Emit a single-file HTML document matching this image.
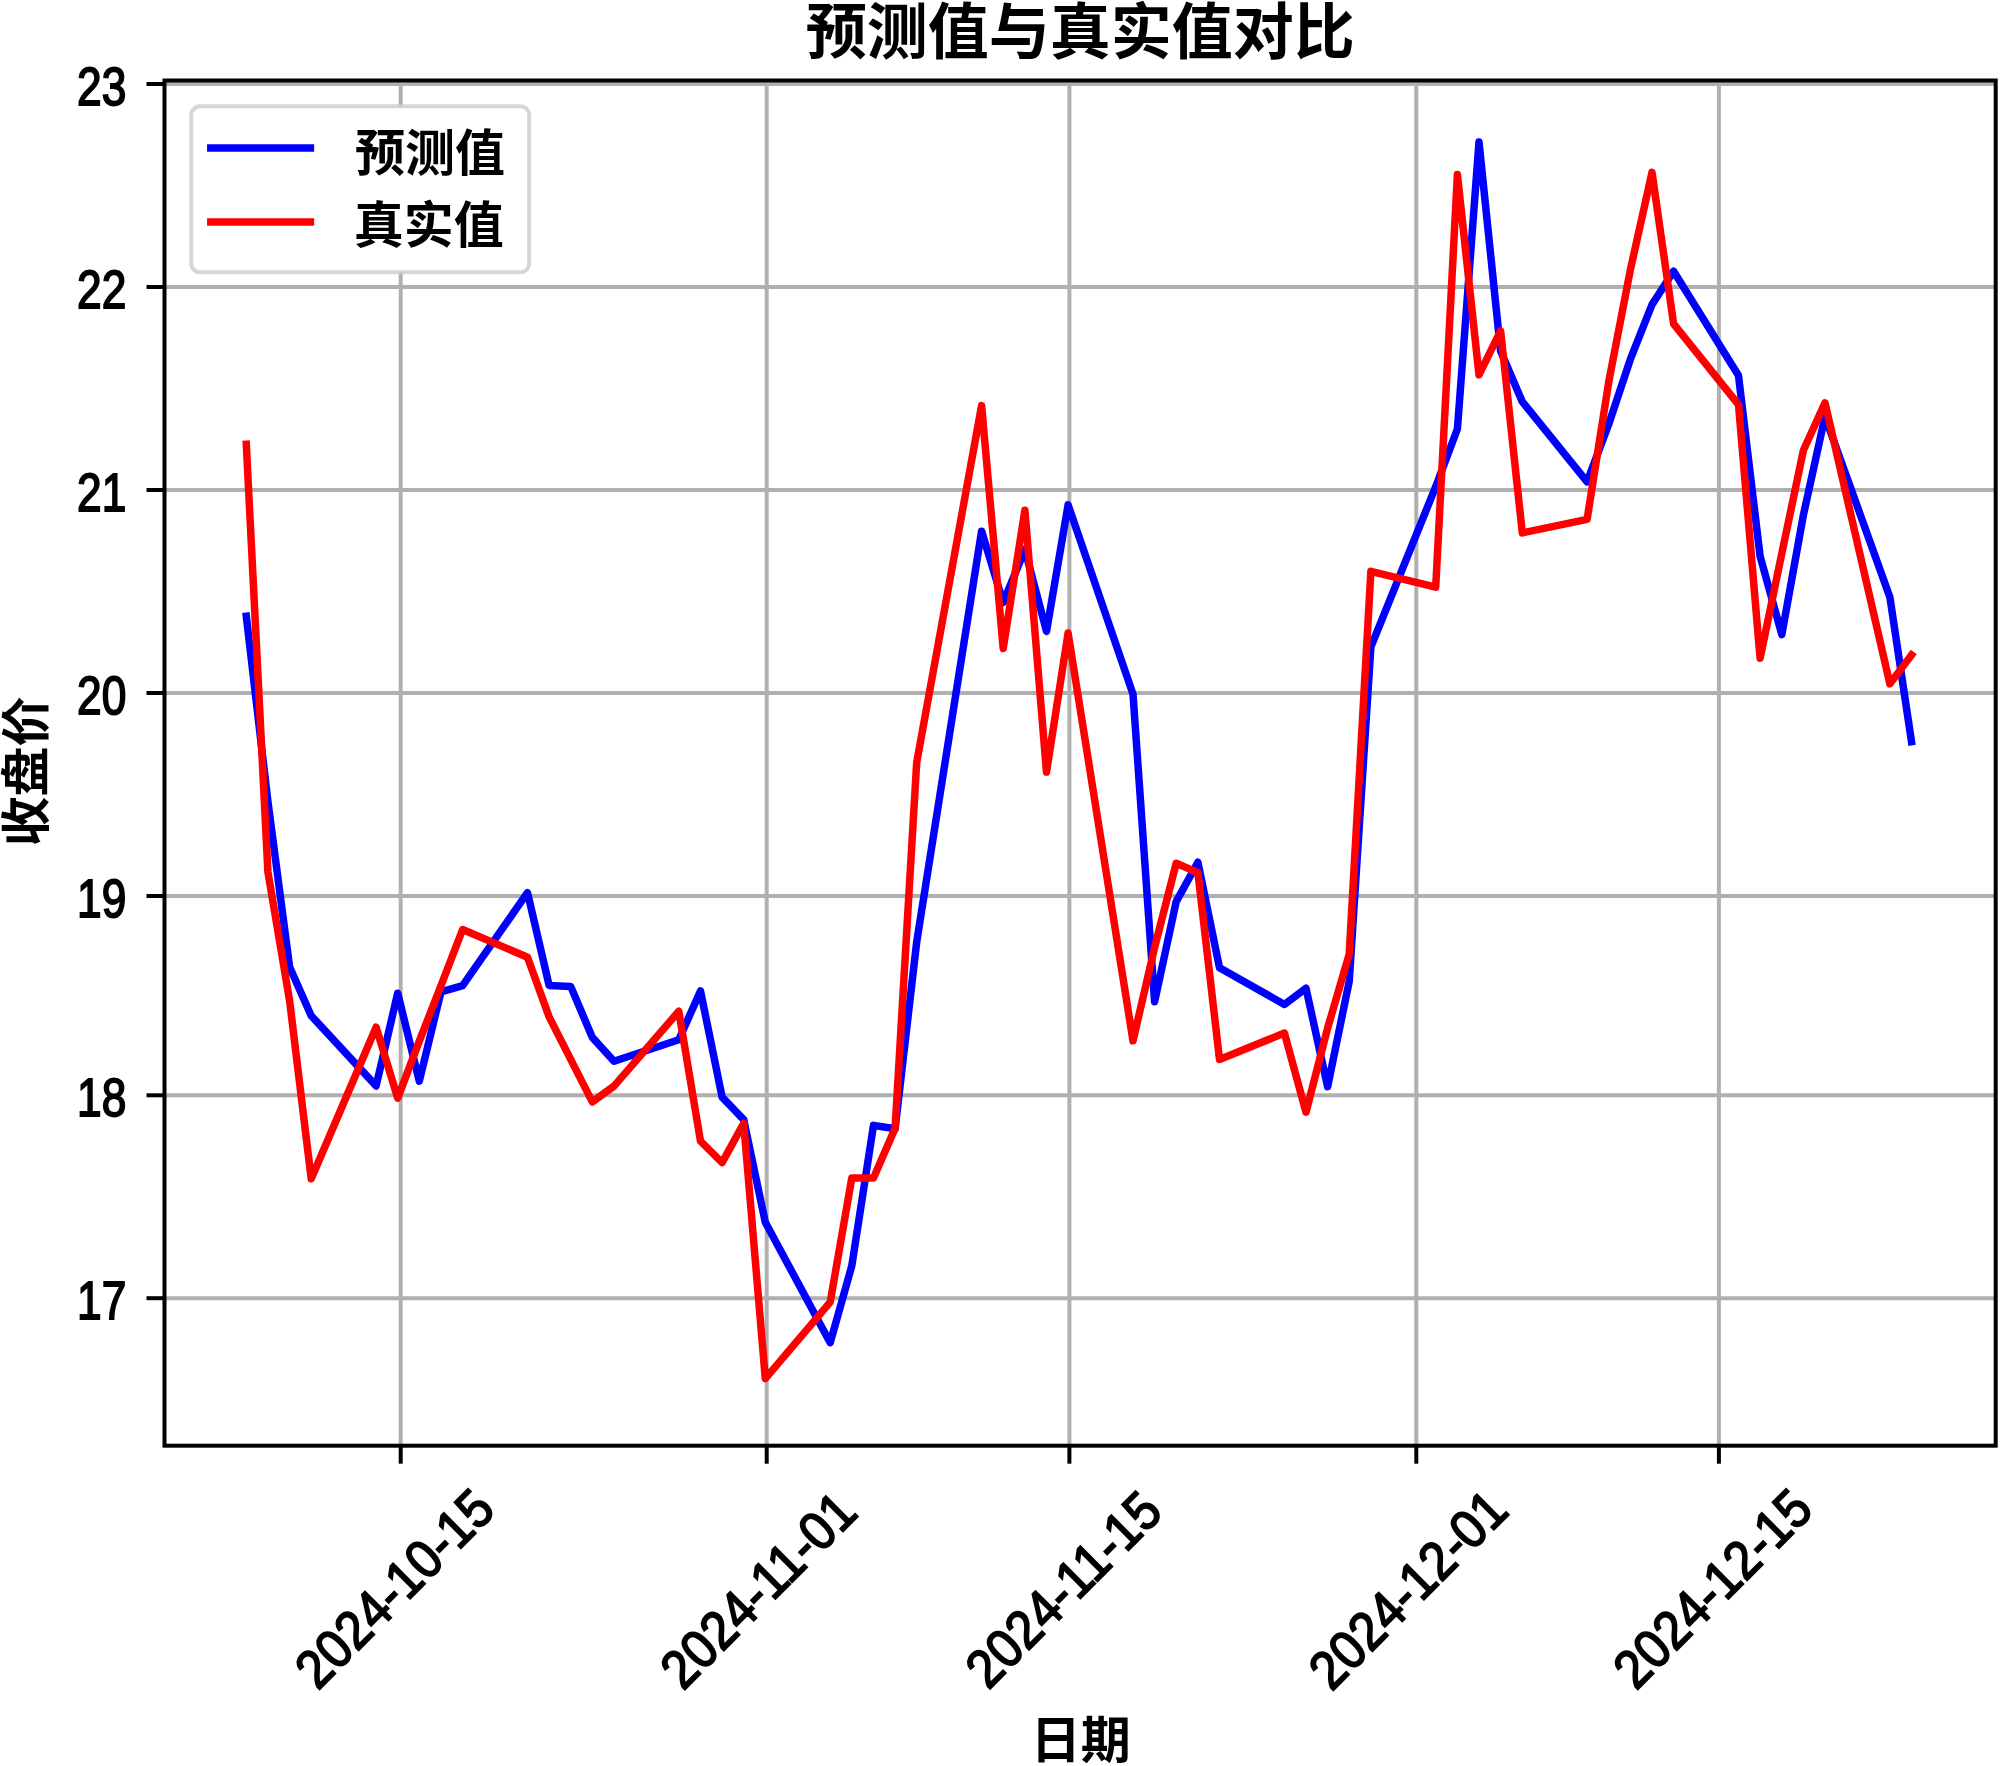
<!DOCTYPE html>
<html><head><meta charset="utf-8"><title>预测值与真实值对比</title>
<style>html,body{margin:0;padding:0;background:#fff;overflow:hidden;width:2000px;height:1766px}svg{display:block}</style></head><body>
<svg width="2000" height="1766" viewBox="0 0 2000 1766">
<rect x="0" y="0" width="2000" height="1766" fill="#ffffff"/>
<defs><clipPath id="ax"><rect x="164.5" y="80.5" width="1831.2" height="1365.2"/></clipPath></defs>
<g stroke="#b0b0b0" stroke-width="4" fill="none">
<line x1="400.7" y1="80.5" x2="400.7" y2="1445.7"/>
<line x1="766.7" y1="80.5" x2="766.7" y2="1445.7"/>
<line x1="1069.4" y1="80.5" x2="1069.4" y2="1445.7"/>
<line x1="1416.3" y1="80.5" x2="1416.3" y2="1445.7"/>
<line x1="1718.9" y1="80.5" x2="1718.9" y2="1445.7"/>
<line x1="164.5" y1="84" x2="1995.7" y2="84"/>
<line x1="164.5" y1="287" x2="1995.7" y2="287"/>
<line x1="164.5" y1="490" x2="1995.7" y2="490"/>
<line x1="164.5" y1="693" x2="1995.7" y2="693"/>
<line x1="164.5" y1="896" x2="1995.7" y2="896"/>
<line x1="164.5" y1="1095.3" x2="1995.7" y2="1095.3"/>
<line x1="164.5" y1="1298.2" x2="1995.7" y2="1298.2"/>
</g>
<g clip-path="url(#ax)" fill="none" stroke-width="7.5" stroke-linejoin="round" stroke-linecap="square">
<polyline stroke="#0000ff" points="246.3,616.2 267.9,801.4 289.6,966.9 311.2,1015.7 376.1,1085.9 397.7,993.2 419.3,1081.1 441.0,991.8 462.6,985.6 527.5,892.7 549.1,985.4 570.7,986.4 592.3,1037.4 614.0,1061.2 678.8,1039.8 700.5,991.0 722.1,1097.1 743.7,1119.7 765.3,1222.3 830.2,1342.7 851.8,1265.8 873.5,1125.4 895.1,1128.8 916.7,942.0 981.6,531.2 1003.2,602.5 1024.9,549.5 1046.5,631.4 1068.1,504.9 1133.0,694.1 1154.6,1001.7 1176.2,901.6 1197.9,862.3 1219.5,967.7 1284.4,1004.4 1306.0,988.2 1327.6,1086.7 1349.2,981.5 1370.9,646.8 1435.7,486.7 1457.4,429.0 1479.0,142.1 1500.6,351.1 1522.3,401.7 1587.1,481.9 1608.8,424.0 1630.4,359.2 1652.0,304.6 1673.6,271.2 1738.5,375.6 1760.1,556.3 1781.8,634.6 1803.4,515.0 1825.0,416.5 1889.9,597.2 1911.5,741.7"/>
<polyline stroke="#ff0000" points="246.3,444.2 267.9,871.8 289.6,1000.7 311.2,1178.8 376.1,1027.2 397.7,1098.1 419.3,1041.2 441.0,985.6 462.6,929.5 527.5,957.2 549.1,1016.9 570.7,1059.4 592.3,1101.9 614.0,1086.1 678.8,1011.3 700.5,1141.2 722.1,1162.6 743.7,1123.2 765.3,1378.6 830.2,1302.1 851.8,1178.0 873.5,1178.0 895.1,1128.2 916.7,762.3 981.6,405.6 1003.2,648.4 1024.9,510.2 1046.5,772.1 1068.1,633.0 1133.0,1040.8 1154.6,947.5 1176.2,863.3 1197.9,872.6 1219.5,1059.4 1284.4,1033.1 1306.0,1112.2 1327.6,1028.1 1349.2,954.2 1370.9,571.3 1435.7,587.1 1457.4,174.5 1479.0,374.8 1500.6,330.9 1522.3,532.9 1587.1,519.3 1608.8,381.5 1630.4,269.6 1652.0,172.4 1673.6,323.8 1738.5,404.6 1760.1,658.3 1781.8,553.5 1803.4,450.3 1825.0,402.9 1889.9,683.8 1911.5,655.1"/>
</g>
<rect x="164.5" y="80.5" width="1831.2" height="1365.2" fill="none" stroke="#000" stroke-width="4" stroke-linejoin="miter"/>
<g stroke="#000" stroke-width="4">
<line x1="400.7" y1="1445.7" x2="400.7" y2="1463.7"/>
<line x1="766.7" y1="1445.7" x2="766.7" y2="1463.7"/>
<line x1="1069.4" y1="1445.7" x2="1069.4" y2="1463.7"/>
<line x1="1416.3" y1="1445.7" x2="1416.3" y2="1463.7"/>
<line x1="1718.9" y1="1445.7" x2="1718.9" y2="1463.7"/>
<line x1="146.5" y1="84" x2="164.5" y2="84"/>
<line x1="146.5" y1="287" x2="164.5" y2="287"/>
<line x1="146.5" y1="490" x2="164.5" y2="490"/>
<line x1="146.5" y1="693" x2="164.5" y2="693"/>
<line x1="146.5" y1="896" x2="164.5" y2="896"/>
<line x1="146.5" y1="1095.3" x2="164.5" y2="1095.3"/>
<line x1="146.5" y1="1298.2" x2="164.5" y2="1298.2"/>
</g>
<g font-family="&quot;Liberation Sans&quot;, &quot;DejaVu Sans&quot;, sans-serif" font-size="54" fill="#000" stroke="#000" stroke-width="1.8" text-anchor="end">
<text transform="translate(126.3,105.1) scale(0.82,1)">23</text>
<text transform="translate(126.3,308.1) scale(0.82,1)">22</text>
<text transform="translate(126.3,511.1) scale(0.82,1)">21</text>
<text transform="translate(126.3,714.1) scale(0.82,1)">20</text>
<text transform="translate(126.3,917.1) scale(0.82,1)">19</text>
<text transform="translate(126.3,1116.4) scale(0.82,1)">18</text>
<text transform="translate(126.3,1319.3) scale(0.82,1)">17</text>
</g>
<g font-family="&quot;Liberation Sans&quot;, &quot;DejaVu Sans&quot;, sans-serif" font-size="54" fill="#000" stroke="#000" stroke-width="1.8" text-anchor="middle">
<text transform="translate(407.5,1601.6) rotate(-45) scale(0.918,1)">2024-10-15</text>
<text transform="translate(771.4,1603.1) rotate(-45) scale(0.918,1)">2024-11-01</text>
<text transform="translate(1076.5,1602.5) rotate(-45) scale(0.918,1)">2024-11-15</text>
<text transform="translate(1421.2,1602.6) rotate(-45) scale(0.918,1)">2024-12-01</text>
<text transform="translate(1725.7,1601.7) rotate(-45) scale(0.918,1)">2024-12-15</text>
</g>
<rect x="191.2" y="106.2" width="338" height="166.1" rx="9" ry="9" fill="#ffffff" fill-opacity="1" stroke="#cccccc" stroke-opacity="0.8" stroke-width="4"/>
<g stroke-width="7.5" stroke-linecap="square"><line x1="210.8" y1="148.1" x2="310.4" y2="148.1" stroke="#0000ff"/><line x1="210.8" y1="221.9" x2="310.4" y2="221.9" stroke="#ff0000"/></g>
<g font-family="&quot;Liberation Sans&quot;, &quot;Noto Sans CJK SC&quot;, &quot;WenQuanYi Zen Hei&quot;, sans-serif" font-weight="700" font-size="50" fill="#000">
<text x="354.9" y="170.7">预测值</text>
<text x="353.7" y="243">真实值</text>
</g>
<text x="1080.2" y="53.7" text-anchor="middle" font-family="&quot;Liberation Sans&quot;, &quot;Noto Sans CJK SC&quot;, &quot;WenQuanYi Zen Hei&quot;, sans-serif" font-weight="700" font-size="61" fill="#000">预测值与真实值对比</text>
<text x="1030.8" y="1758" font-family="&quot;Liberation Sans&quot;, &quot;Noto Sans CJK SC&quot;, &quot;WenQuanYi Zen Hei&quot;, sans-serif" font-weight="700" font-size="50" fill="#000">日期</text>
<text transform="translate(44,771.4) rotate(-90)" text-anchor="middle" font-family="&quot;Liberation Sans&quot;, &quot;Noto Sans CJK SC&quot;, &quot;WenQuanYi Zen Hei&quot;, sans-serif" font-weight="700" font-size="50" fill="#000">收盘价</text>
</svg></body></html>
